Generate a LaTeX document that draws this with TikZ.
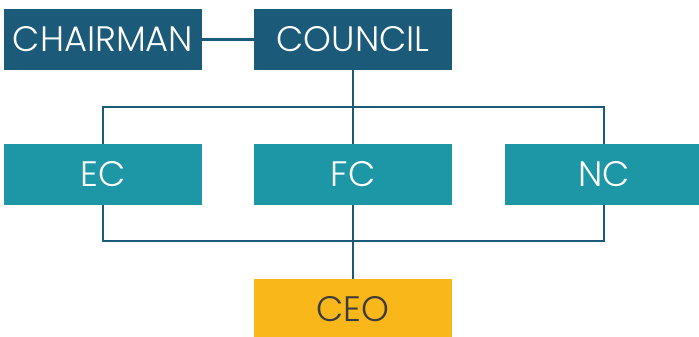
\documentclass[tikz,border=0pt]{standalone}
\usepackage{fontspec}
\IfFontExistsTF{Poppins Light}{\setmainfont{Poppins Light}}{\setmainfont{Poppins}}
\definecolor{navy}{HTML}{1B5A78}
\definecolor{tealc}{HTML}{1D97A5}
\definecolor{gold}{HTML}{F9B719}
\definecolor{ink}{HTML}{3B3B3B}
\begin{document}
\begin{tikzpicture}[x=1bp,y=-1bp,
  box/.style={rectangle,minimum width=198bp,minimum height=61bp,inner sep=0pt,font=\fontsize{35.5}{35.5}\selectfont},
  topbox/.style={box,fill=navy,text=white},
  midbox/.style={box,fill=tealc,text=white},
  ceobox/.style={box,fill=gold,text=ink},
  link/.style={draw=navy,line width=2.2bp}]
\useasboundingbox (0,0) rectangle (699,336);
\node[topbox] (chair) at (103,39.5) {CHAIRMAN};
\node[topbox] (council) at (353,39.5) {COUNCIL};
\node[midbox] (ec) at (103,174.5) {EC};
\node[midbox] (fc) at (353,174.5) {FC};
\node[midbox] (nc) at (604,174.5) {NC};
\node[ceobox] (ceo) at (353,309.5) {CEO};
\coordinate (tb) at (0,107);
\coordinate (bb) at (0,241);
\draw[link] (chair.east) -- (council.west);
\draw[link] (council.south) -- (council.south |- tb);
\draw[link] (ec.north) -- (ec.north |- tb) -- (nc.north |- tb) -- (nc.north);
\draw[link] (fc.north) -- (fc.north |- tb);
\draw[link] (ec.south) -- (ec.south |- bb) -- (nc.south |- bb) -- (nc.south);
\draw[link] (fc.south) -- (ceo.north);
\end{tikzpicture}
\end{document}
